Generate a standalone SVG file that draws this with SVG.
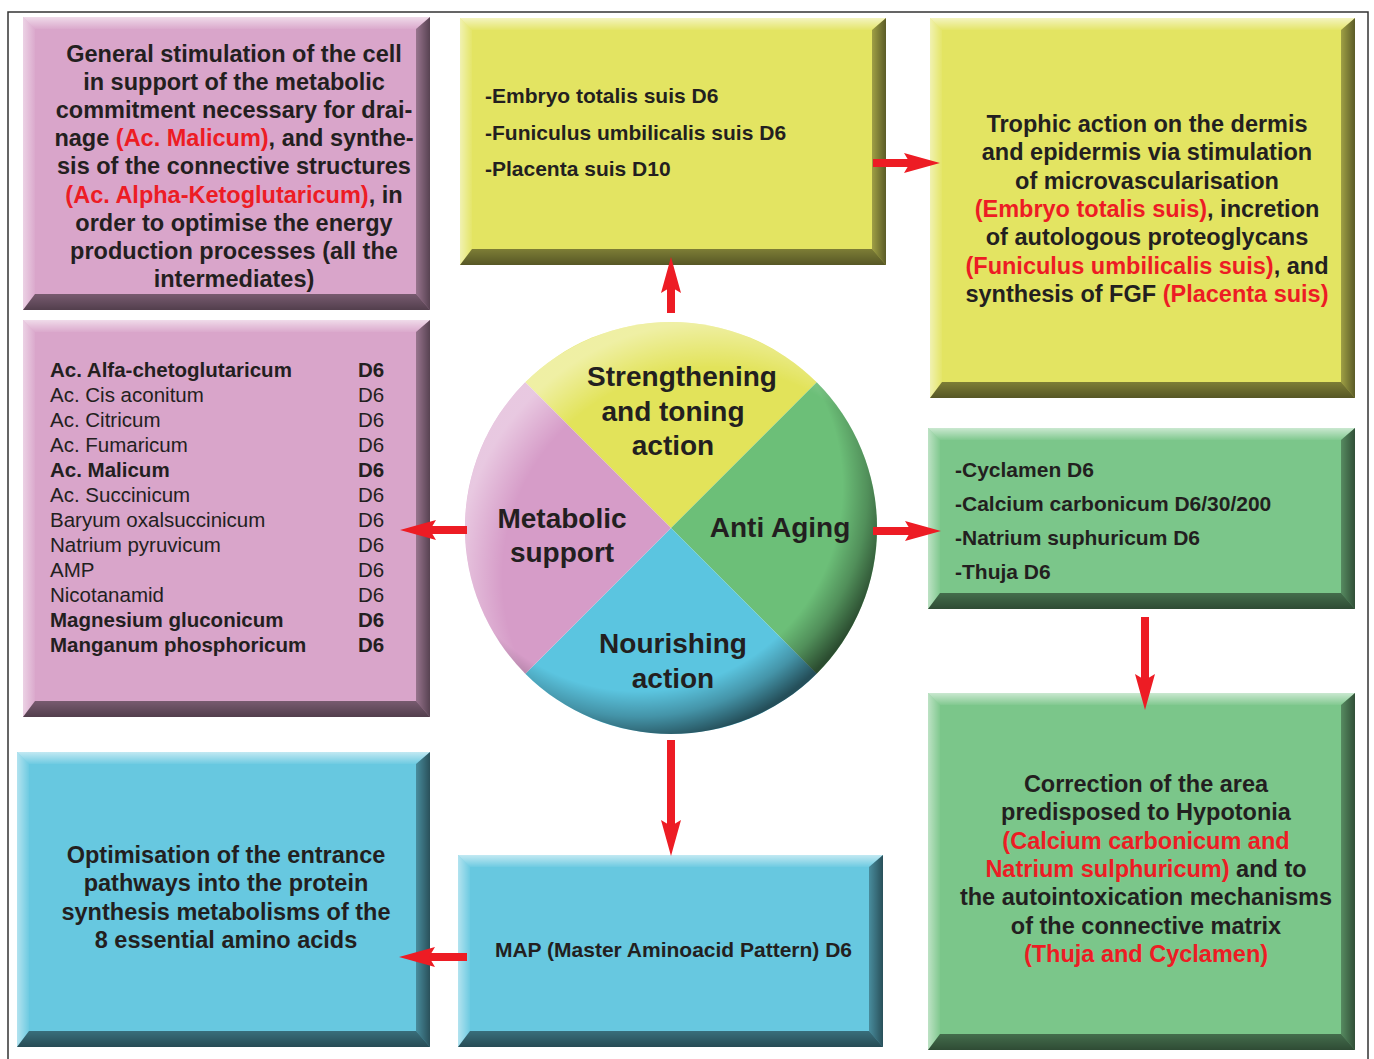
<svg xmlns="http://www.w3.org/2000/svg" width="1374" height="1059" viewBox="0 0 1374 1059">
<style>
text{font-family:"Liberation Sans",Arial,Helvetica,sans-serif;fill:#231F20;font-weight:bold}
.big{font-size:23.5px}
.sm{font-size:21px}
.ls{font-size:20.5px;font-weight:normal}
.ls.b{font-weight:bold}
.lbl{font-size:28px}
.c{text-anchor:middle}
.r{fill:#ED1C24}
.pk{fill:#D9A5CA}.yl{fill:#E3E462}.gn{fill:#7BC68A}.bu{fill:#67C8E0}
.bt{fill:url(#gT)}.bl{fill:url(#gL)}.br{fill:url(#gR)}.bb{fill:url(#gB)}
.arr{stroke:#ED1C24;stroke-width:8;fill:none;marker-end:url(#ah)}
</style>
<defs>
<linearGradient id="gT" x1="0" y1="0" x2="0" y2="1"><stop offset="0" stop-color="#fff" stop-opacity="0.6"/><stop offset="1" stop-color="#fff" stop-opacity="0.05"/></linearGradient>
<linearGradient id="gL" x1="0" y1="0" x2="1" y2="0"><stop offset="0" stop-color="#fff" stop-opacity="0.5"/><stop offset="1" stop-color="#fff" stop-opacity="0.05"/></linearGradient>
<linearGradient id="gR" x1="0" y1="0" x2="1" y2="0"><stop offset="0" stop-color="#000" stop-opacity="0.3"/><stop offset="1" stop-color="#000" stop-opacity="0.6"/></linearGradient>
<linearGradient id="gB" x1="0" y1="0" x2="0" y2="1"><stop offset="0" stop-color="#000" stop-opacity="0.45"/><stop offset="1" stop-color="#000" stop-opacity="0.62"/></linearGradient>
<radialGradient id="rimD" cx="0.42" cy="0.40" r="0.62"><stop offset="0.8" stop-color="#000" stop-opacity="0"/><stop offset="0.9" stop-color="#000" stop-opacity="0.25"/><stop offset="1" stop-color="#000" stop-opacity="0.6"/></radialGradient>
<radialGradient id="rimL" cx="0.6" cy="0.62" r="0.62"><stop offset="0.82" stop-color="#fff" stop-opacity="0"/><stop offset="1" stop-color="#fff" stop-opacity="0.45"/></radialGradient>
<marker id="ah" markerUnits="userSpaceOnUse" markerWidth="40" markerHeight="24" viewBox="0 -12 40 24" refX="8" refY="0" orient="auto"><path d="M0,-10 L36,0 L0,10 L6,0 Z" fill="#ED1C24"/></marker>
</defs>
<rect x="0" y="0" width="1374" height="1059" fill="#fff"/>
<rect x="8" y="12" width="1360" height="1070" fill="none" stroke="#333" stroke-width="1.5"/>

<g id="box-general">
<rect class="pk" x="23" y="17" width="407" height="293"/>
<polygon class="bt" points="23,17 430,17 416,29 35,29"/>
<polygon class="bl" points="23,17 35,29 35,294 23,310"/>
<polygon class="br" points="430,17 430,310 416,294 416,29"/>
<polygon class="bb" points="23,310 35,294 416,294 430,310"/>
<text class="big c" x="234" y="62">General stimulation of the cell</text>
<text class="big c" x="234" y="90.1">in support of the metabolic</text>
<text class="big c" x="234" y="118.2">commitment necessary for drai-</text>
<text class="big c" x="234" y="146.3">nage <tspan class="r">(Ac. Malicum)</tspan>, and synthe-</text>
<text class="big c" x="234" y="174.4">sis of the connective structures</text>
<text class="big c" x="234" y="202.5"><tspan class="r">(Ac. Alpha-Ketoglutaricum)</tspan>, in</text>
<text class="big c" x="234" y="230.6">order to optimise the energy</text>
<text class="big c" x="234" y="258.7">production processes (all the</text>
<text class="big c" x="234" y="286.8">intermediates)</text>
</g>

<g id="box-suis">
<rect class="yl" x="460" y="18" width="426" height="247"/>
<polygon class="bt" points="460,18 886,18 872,30 472,30"/>
<polygon class="bl" points="460,18 472,30 472,249 460,265"/>
<polygon class="br" points="886,18 886,265 872,249 872,30"/>
<polygon class="bb" points="460,265 472,249 872,249 886,265"/>
<text class="sm" x="485" y="103">-Embryo totalis suis D6</text>
<text class="sm" x="485" y="139.5">-Funiculus umbilicalis suis D6</text>
<text class="sm" x="485" y="176">-Placenta suis D10</text>
</g>

<g id="box-trophic">
<rect class="yl" x="930" y="18" width="425" height="380"/>
<polygon class="bt" points="930,18 1355,18 1341,30 942,30"/>
<polygon class="bl" points="930,18 942,30 942,382 930,398"/>
<polygon class="br" points="1355,18 1355,398 1341,382 1341,30"/>
<polygon class="bb" points="930,398 942,382 1341,382 1355,398"/>
<text class="big c" x="1147" y="132">Trophic action on the dermis</text>
<text class="big c" x="1147" y="160.3">and epidermis via stimulation</text>
<text class="big c" x="1147" y="188.6">of microvascularisation</text>
<text class="big c" x="1147" y="216.9"><tspan class="r">(Embryo totalis suis)</tspan>, incretion</text>
<text class="big c" x="1147" y="245.2">of autologous proteoglycans</text>
<text class="big c" x="1147" y="273.5"><tspan class="r">(Funiculus umbilicalis suis)</tspan>, and</text>
<text class="big c" x="1147" y="301.8">synthesis of FGF <tspan class="r">(Placenta suis)</tspan></text>
</g>

<g id="box-acids">
<rect class="pk" x="23" y="320" width="407" height="397"/>
<polygon class="bt" points="23,320 430,320 416,332 35,332"/>
<polygon class="bl" points="23,320 35,332 35,701 23,717"/>
<polygon class="br" points="430,320 430,717 416,701 416,332"/>
<polygon class="bb" points="23,717 35,701 416,701 430,717"/>
<text class="ls b" x="50" y="376.7">Ac. Alfa-chetoglutaricum</text><text class="ls b" x="358" y="376.7">D6</text>
<text class="ls" x="50" y="401.7">Ac. Cis aconitum</text><text class="ls" x="358" y="401.7">D6</text>
<text class="ls" x="50" y="426.8">Ac. Citricum</text><text class="ls" x="358" y="426.8">D6</text>
<text class="ls" x="50" y="451.8">Ac. Fumaricum</text><text class="ls" x="358" y="451.8">D6</text>
<text class="ls b" x="50" y="476.8">Ac. Malicum</text><text class="ls b" x="358" y="476.8">D6</text>
<text class="ls" x="50" y="501.9">Ac. Succinicum</text><text class="ls" x="358" y="501.9">D6</text>
<text class="ls" x="50" y="526.9">Baryum oxalsuccinicum</text><text class="ls" x="358" y="526.9">D6</text>
<text class="ls" x="50" y="551.9">Natrium pyruvicum</text><text class="ls" x="358" y="551.9">D6</text>
<text class="ls" x="50" y="576.9">AMP</text><text class="ls" x="358" y="576.9">D6</text>
<text class="ls" x="50" y="602">Nicotanamid</text><text class="ls" x="358" y="602">D6</text>
<text class="ls b" x="50" y="627">Magnesium gluconicum</text><text class="ls b" x="358" y="627">D6</text>
<text class="ls b" x="50" y="652">Manganum phosphoricum</text><text class="ls b" x="358" y="652">D6</text>
</g>

<g id="box-antiaging-remedies">
<rect class="gn" x="928" y="428" width="427" height="181"/>
<polygon class="bt" points="928,428 1355,428 1341,440 940,440"/>
<polygon class="bl" points="928,428 940,440 940,593 928,609"/>
<polygon class="br" points="1355,428 1355,609 1341,593 1341,440"/>
<polygon class="bb" points="928,609 940,593 1341,593 1355,609"/>
<text class="sm" x="955" y="477">-Cyclamen D6</text>
<text class="sm" x="955" y="511">-Calcium carbonicum D6/30/200</text>
<text class="sm" x="955" y="545">-Natrium suphuricum D6</text>
<text class="sm" x="955" y="579">-Thuja D6</text>
</g>

<g id="box-correction">
<rect class="gn" x="928" y="693" width="427" height="357"/>
<polygon class="bt" points="928,693 1355,693 1341,705 940,705"/>
<polygon class="bl" points="928,693 940,705 940,1034 928,1050"/>
<polygon class="br" points="1355,693 1355,1050 1341,1034 1341,705"/>
<polygon class="bb" points="928,1050 940,1034 1341,1034 1355,1050"/>
<text class="big c" x="1146" y="792">Correction of the area</text>
<text class="big c" x="1146" y="820.3">predisposed to Hypotonia</text>
<text class="big c r" x="1146" y="848.6">(Calcium carbonicum and</text>
<text class="big c" x="1146" y="876.9"><tspan class="r">Natrium sulphuricum)</tspan> and to</text>
<text class="big c" x="1146" y="905.2">the autointoxication mechanisms</text>
<text class="big c" x="1146" y="933.5">of the connective matrix</text>
<text class="big c r" x="1146" y="961.8">(Thuja and Cyclamen)</text>
</g>

<g id="box-optimisation">
<rect class="bu" x="17" y="752" width="413" height="295"/>
<polygon class="bt" points="17,752 430,752 416,764 29,764"/>
<polygon class="bl" points="17,752 29,764 29,1031 17,1047"/>
<polygon class="br" points="430,752 430,1047 416,1031 416,764"/>
<polygon class="bb" points="17,1047 29,1031 416,1031 430,1047"/>
<text class="big c" x="226" y="863">Optimisation of the entrance</text>
<text class="big c" x="226" y="891.3">pathways into the protein</text>
<text class="big c" x="226" y="919.6">synthesis metabolisms of the</text>
<text class="big c" x="226" y="947.9">8 essential amino acids</text>
</g>

<g id="box-map">
<rect class="bu" x="458" y="855" width="425" height="192"/>
<polygon class="bt" points="458,855 883,855 869,867 470,867"/>
<polygon class="bl" points="458,855 470,867 470,1031 458,1047"/>
<polygon class="br" points="883,855 883,1047 869,1031 869,867"/>
<polygon class="bb" points="458,1047 470,1031 869,1031 883,1047"/>
<text class="sm c" x="673.5" y="957">MAP (Master Aminoacid Pattern) D6</text>
</g>

<g id="wheel">
<path d="M671,528 L525.3,382.3 A206,206 0 0 1 816.7,382.3 Z" fill="#E2E35A"/>
<path d="M671,528 L816.7,382.3 A206,206 0 0 1 816.7,673.7 Z" fill="#6CBF78"/>
<path d="M671,528 L816.7,673.7 A206,206 0 0 1 525.3,673.7 Z" fill="#5BC5E0"/>
<path d="M671,528 L525.3,673.7 A206,206 0 0 1 525.3,382.3 Z" fill="#D69CC8"/>
<circle cx="671" cy="528" r="206" fill="url(#rimL)"/>
<circle cx="671" cy="528" r="206" fill="url(#rimD)"/>
<text class="lbl c" x="682" y="386">Strengthening</text>
<text class="lbl c" x="673" y="421">and toning</text>
<text class="lbl c" x="673" y="455">action</text>
<text class="lbl c" x="562" y="528">Metabolic</text>
<text class="lbl c" x="562" y="562">support</text>
<text class="lbl c" x="780" y="537">Anti Aging</text>
<text class="lbl c" x="673" y="653">Nourishing</text>
<text class="lbl c" x="673" y="688">action</text>
</g>

<g id="connectors">
<line class="arr" x1="671" y1="313" x2="671" y2="285"/>
<line class="arr" x1="873" y1="163" x2="912" y2="163"/>
<line class="arr" x1="467" y1="530" x2="428" y2="530"/>
<line class="arr" x1="873" y1="531" x2="913" y2="531"/>
<line class="arr" x1="671" y1="740" x2="671" y2="828"/>
<line class="arr" x1="1145" y1="617" x2="1145" y2="682"/>
<line class="arr" x1="467" y1="957" x2="427" y2="957"/>
</g>
</svg>
